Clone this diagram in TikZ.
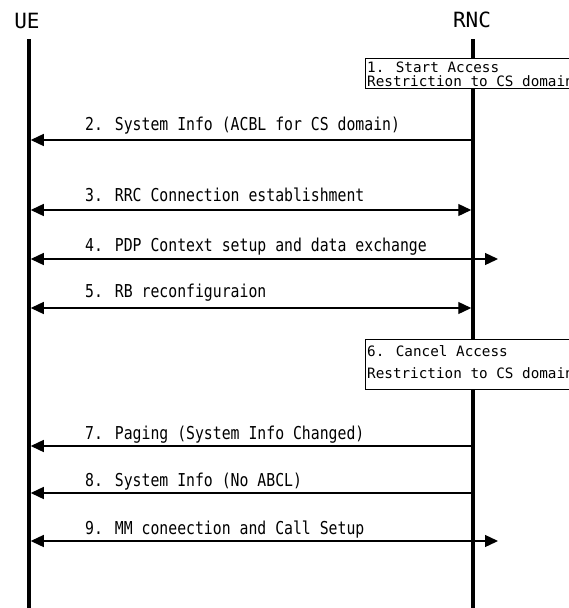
\documentclass[tikz,border=0pt]{standalone}
\usepackage{fontspec}
\setmainfont{DejaVu Sans Mono}
\usetikzlibrary{arrows.meta}
\newcommand{\tallmsg}[1]{\scalebox{1}[1.2]{#1}}
\begin{document}
\begin{tikzpicture}[x=1pt,y=-1pt,
  >={Triangle[length=13pt,width=12pt]},
  lifeline/.style={line width=3.5pt},
  msg/.style={line width=1.3pt},
  hdr/.style={inner sep=0pt,anchor=base,font=\fontsize{21}{24}\selectfont},
  lbl/.style={inner sep=0pt,anchor=base west,font=\fontsize{14.8}{17}\selectfont},
  boxtxt/.style={inner sep=0pt,anchor=base west,font=\fontsize{14.3}{16}\selectfont},
  actbox/.style={draw,line width=1pt,fill=white,inner sep=0pt,anchor=north west,minimum width=260pt}
]
\useasboundingbox (0,0) rectangle (569,608);
\clip (0,0) rectangle (569,608);
% headers
\node[hdr] (ue) at (27,28) {UE};
\node[hdr] (rnc) at (472,27) {RNC};
% lifelines
\coordinate (uetop) at (29,39);
\coordinate (uebot) at (29,612);
\coordinate (rnctop) at (473,39);
\coordinate (rncbot) at (473,612);
\draw[lifeline] (uetop) -- (uebot);
\draw[lifeline] (rnctop) -- (rncbot);
% box 1
\node[actbox,minimum height=30pt] (box1) at (365,58) {};
\node[boxtxt] (b1a) at (367,72) {1. Start Access};
\node[boxtxt] (b1b) at (367,86) {Restriction to CS domain};
% message coordinates
\coordinate (u2) at (30.75,140); \coordinate (r2) at (473,140);
\coordinate (u3) at (30.75,210); \coordinate (r3) at (471.25,210);
\coordinate (u4) at (30.75,259); \coordinate (r4) at (498,259);
\coordinate (u5) at (30.75,308); \coordinate (r5) at (471.25,308);
\coordinate (u7) at (30.75,446); \coordinate (r7) at (473,446);
\coordinate (u8) at (30.75,493); \coordinate (r8) at (473,493);
\coordinate (u9) at (30.75,541); \coordinate (r9) at (498,541);
% messages
\draw[msg,->] (r2) -- (u2);
\node[lbl] (l2) at (85,130) {\tallmsg{2. System Info (ACBL for CS domain)}};
\draw[msg,<->] (u3) -- (r3);
\node[lbl] (l3) at (85,201) {\tallmsg{3. RRC Connection establishment}};
\draw[msg,<->] (u4) -- (r4);
\node[lbl] (l4) at (85,251) {\tallmsg{4. PDP Context setup and data exchange}};
\draw[msg,<->] (u5) -- (r5);
\node[lbl] (l5) at (85,297) {\tallmsg{5. RB reconfiguraion}};
% box 6
\node[actbox,minimum height=50pt] (box6) at (365,339) {};
\node[boxtxt] (b6a) at (367,356) {6. Cancel Access};
\node[boxtxt] (b6b) at (367,378) {Restriction to CS domain};
\draw[msg,->] (r7) -- (u7);
\node[lbl] (l7) at (85,439) {\tallmsg{7. Paging (System Info Changed)}};
\draw[msg,->] (r8) -- (u8);
\node[lbl] (l8) at (85,486) {\tallmsg{8. System Info (No ABCL)}};
\draw[msg,<->] (u9) -- (r9);
\node[lbl] (l9) at (85,534) {\tallmsg{9. MM coneection and Call Setup}};
\end{tikzpicture}
\end{document}
